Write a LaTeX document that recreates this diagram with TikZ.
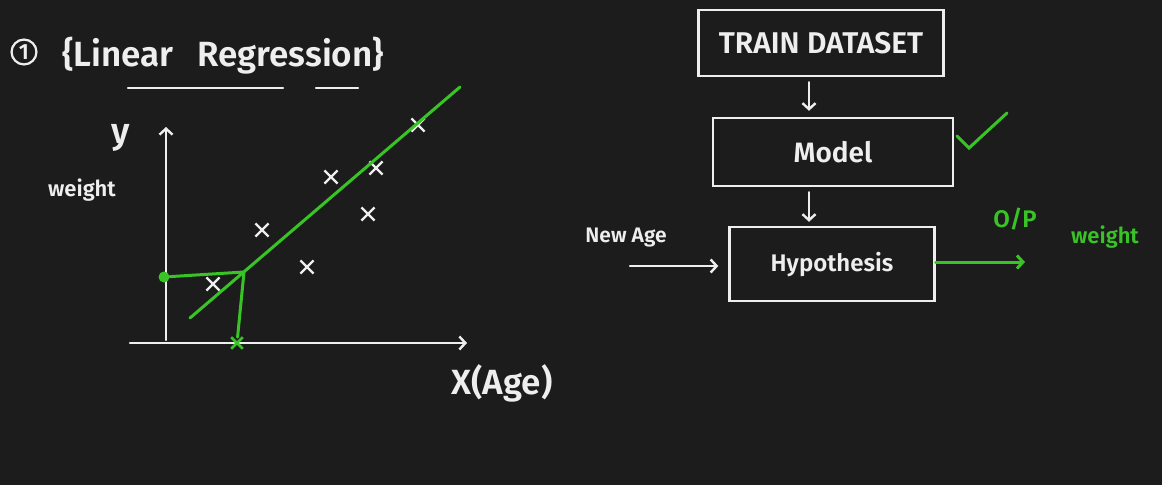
\documentclass[tikz,border=0pt]{standalone}
\usepackage{fontspec}
\setmainfont{Fira Sans SemiBold}
\usepackage{tikz}
\usetikzlibrary{arrows.meta, positioning, shapes.misc}
\definecolor{board}{RGB}{28,28,28}
\definecolor{chalk}{RGB}{238,238,238}
\definecolor{pen}{RGB}{56,196,36}
\tikzset{
  handbox/.style   = {rectangle, draw=chalk, line width=2.4pt, text=chalk,
                      align=center, inner sep=0pt},
  chalkline/.style = {draw=chalk, line width=2.4pt, line cap=round},
  penline/.style   = {draw=pen, line width=3pt, line cap=round},
  arrow/.style     = {-{Straight Barb[length=6pt,width=13pt]}, chalkline},
  penarrow/.style  = {-{Straight Barb[length=6pt,width=13pt]}, penline},
  point/.style     = {cross out, draw=chalk, line width=2.2pt,
                      minimum size=11pt, inner sep=0pt},
  chalktext/.style = {text=chalk, inner sep=0pt},
  pentext/.style   = {text=pen, inner sep=0pt},
}

\begin{document}
\begin{tikzpicture}[x=1pt, y=-1pt]

  %─── Board ─────────────────────────────────────────────────────────────────
  \fill[board] (0,0) rectangle (1162,485);
  \useasboundingbox (0,0) rectangle (1162,485);

  %─── Title ─────────────────────────────────────────────────────────────────
  \node[circle, draw=chalk, line width=2.2pt, text=chalk, inner sep=2.5pt,
        font=\fontsize{22}{24}\selectfont] at (24,52) (num) {1};
  \node[chalktext, font=\fontsize{35}{40}\selectfont, anchor=west]
        at (62,56) (title) {\{Linear\hspace{24pt}Regression\}};
  \draw[chalkline] (128,88) -- (283,88);
  \draw[chalkline] (316,88) -- (358,88);

  %─── Axes ──────────────────────────────────────────────────────────────────
  \coordinate (xstart) at (130,343);
  \coordinate (xend)   at (467,343);
  \coordinate (ystart) at (166,340);
  \coordinate (yend)   at (166,127);
  \draw[arrow] (xstart) -- (xend);
  \draw[arrow] (ystart) -- (yend);
  \node[chalktext, font=\fontsize{36}{40}\selectfont] at (121,138) (ylab) {y};
  \node[chalktext, font=\fontsize{22}{26}\selectfont] at (82,190) (wlab) {weight};
  \node[chalktext, font=\fontsize{35}{40}\selectfont] at (502,383) (xlab) {X(Age)};

  %─── Data points ───────────────────────────────────────────────────────────
  \foreach \px/\py [count=\i] in {418/125, 376/168, 331/177, 262/230,
                                 368/214, 307/267, 213/284}
    \node[point] at (\px,\py) (pt\i) {};

  %─── Best fit line and prediction ──────────────────────────────────────────
  \coordinate (fitA) at (190,318);
  \coordinate (fitB) at (460,87);
  \coordinate (pred) at (244,272);
  \draw[penline] (fitA) -- (fitB);
  \node[circle, fill=pen, minimum size=11pt, inner sep=0pt] at (164,277) (icpt) {};
  \node[cross out, draw=pen, line width=2.6pt, minimum size=9pt, inner sep=0pt]
        at (237,343) (xhit) {};
  \draw[penline] (icpt) -- (pred);
  \draw[penline] (pred) -- (xhit);

  %─── Pipeline ──────────────────────────────────────────────────────────────
  \node[handbox, minimum width=245pt, minimum height=66pt,
        font=\fontsize{30}{34}\selectfont] at (821,43) (train) {TRAIN DATASET};
  \node[handbox, minimum width=240pt, minimum height=68pt,
        font=\fontsize{28}{32}\selectfont] at (833,152) (model) {Model};
  \node[handbox, minimum width=205pt, minimum height=74pt,
        font=\fontsize{24}{28}\selectfont] at (832,264) (hyp) {Hypothesis};

  \coordinate (col) at (809,0);
  \draw[arrow, shorten <=5pt, shorten >=6pt] (train.south -| col) -- (model.north -| col);
  \draw[arrow, shorten <=5pt, shorten >=4pt] (model.south -| col) -- (hyp.north -| col);

  % new input
  \coordinate (agein) at (630,266);
  \node[chalktext, font=\fontsize{21}{24}\selectfont] at (626,238) (agelab) {New Age};
  \draw[arrow, shorten >=10pt] (agein) -- (agein -| hyp.west);

  % trained check
  \draw[penline] (957,136) -- (969,148) -- (1007,113);

  % output
  \coordinate (out) at (1025,262);
  \draw[penarrow] (hyp.east |- out) -- (out);
  \node[pentext, font=\fontsize{24}{28}\selectfont] at (1015,219) (oplab) {O/P};
  \node[pentext, font=\fontsize{22}{26}\selectfont] at (1105,237) (outlab) {weight};

\end{tikzpicture}
\end{document}
